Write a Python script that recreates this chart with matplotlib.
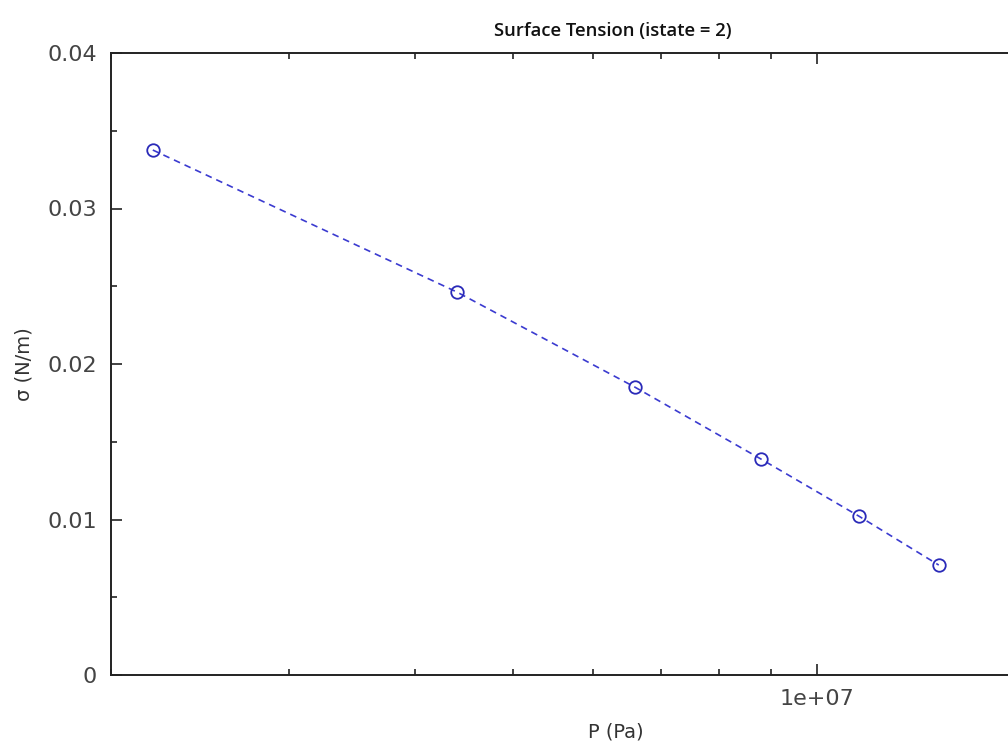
import matplotlib
matplotlib.use('Agg')
import matplotlib.pyplot as plt
import numpy as np
from matplotlib.ticker import FixedLocator, NullFormatter, LogLocator

# pressure (Pa) and surface tension (N/m)
P = [2.2e6, 4.4e6, 6.6e6, 8.8e6, 11.0e6, 13.2e6]
sigma = [0.03376, 0.02463, 0.01852, 0.01389, 0.01022, 0.00707]
yticks = [0, 0.01, 0.02, 0.03, 0.04]
ytick_labels = ['0', '0.01', '0.02', '0.03', '0.04']

fig = plt.figure(figsize=(10.08, 7.49), dpi=100)
# axes runs off the right edge, as in the cropped reference
ax = fig.add_axes([111/1008., 1 - 675/749., 1010/1008., 622/749.])

ax.semilogx(P, sigma, linestyle='--', color='#3b3bd0', linewidth=1.2,
            marker='o', markersize=9, markerfacecolor='none',
            markeredgecolor='#2a2ab8', markeredgewidth=1.3, dashes=(4, 3))

ax.set_xlim(2e6, 2e7)
ax.set_ylim(0, 0.04)
ax.xaxis.set_major_locator(FixedLocator([1e7]))
ax.xaxis.set_major_formatter(plt.FuncFormatter(lambda v, p: '1e+07'))
ax.xaxis.set_minor_locator(LogLocator(base=10, subs=np.arange(2, 10)))
ax.xaxis.set_minor_formatter(NullFormatter())
ax.set_yticks(yticks)
ax.set_yticklabels(ytick_labels)
ax.set_yticks(np.arange(0.005, 0.04, 0.01), minor=True)

ax.tick_params(which='both', direction='in', top=True, right=True,
               colors='#222222', labelcolor='#444444', labelsize=16, width=1.2)
ax.tick_params(which='major', length=8, pad=10)
ax.tick_params(which='minor', length=4)
for s in ax.spines.values():
    s.set_linewidth(1.4)
    s.set_color('#222222')

ax.set_xlabel('P (Pa)', fontsize=14, color='#333333', labelpad=10)
ax.set_ylabel('σ (N/m)', fontsize=14, color='#333333', labelpad=10)
fig.text(613/1008., 1 - 31/749., 'Surface Tension (istate = 2)',
         ha='center', va='center', fontsize=13.3, family='Open Sans',
         fontweight='semibold', color='#111111')

fig.savefig('out.png', dpi=100)
